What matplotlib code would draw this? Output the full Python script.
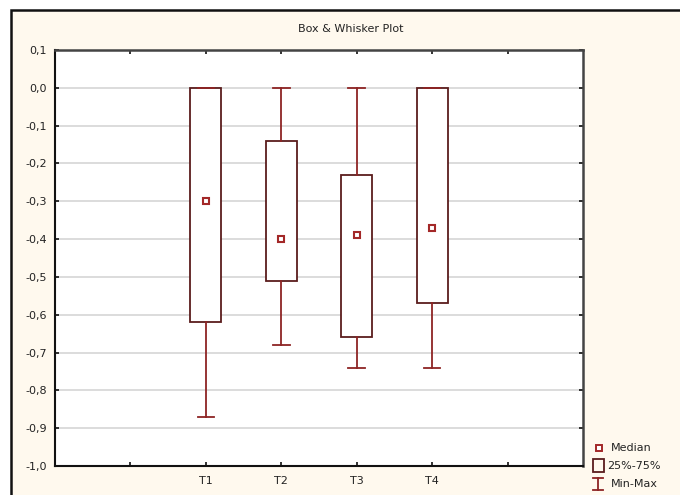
import matplotlib.pyplot as plt
from matplotlib.patches import Rectangle
from matplotlib.lines import Line2D

# data per group: min, q1, median, q3, max
groups = ["T1", "T2", "T3", "T4"]
mins = [-0.87, -0.68, -0.74, -0.74]
q1s = [-0.62, -0.51, -0.66, -0.57]
medians = [-0.30, -0.40, -0.39, -0.37]
q3s = [0.00, -0.14, -0.23, 0.00]
maxs = [0.00, 0.00, 0.00, 0.00]

yticks = [-1.0, -0.9, -0.8, -0.7, -0.6, -0.5, -0.4, -0.3, -0.2, -0.1, 0.0, 0.1]

box_col = "#5a1c1c"
whisk_col = "#8e2424"
med_col = "#a32828"
txt_col = "#232323"
cream = "#fff9ee"

fig = plt.figure(figsize=(6.8, 4.95), dpi=100)
fig.patch.set_facecolor("white")

# outer panel, kept behind the axes
panel = Rectangle((11 / 680, -0.05), 1.0, 1 - 10 / 495 + 0.05, transform=fig.transFigure,
                  facecolor=cream, edgecolor="#111111", linewidth=1.8, zorder=-5)
fig.patches.append(panel)

ax = fig.add_axes([55 / 680, 29 / 495, (583 - 55) / 680, (466 - 50) / 495])
ax.set_facecolor("white")
ax.set_zorder(1)

stats = []
for g, lo, a, m, b, hi in zip(groups, mins, q1s, medians, q3s, maxs):
    stats.append(dict(label=g, whislo=lo, q1=a, med=m, mean=m, q3=b, whishi=hi, fliers=[]))

pos = [2, 3, 4, 5]
ax.bxp(stats, positions=pos, widths=0.41, capwidths=0.22, showmeans=True,
       patch_artist=True, manage_ticks=False,
       boxprops=dict(facecolor="white", edgecolor=box_col, linewidth=1.3),
       whiskerprops=dict(color=whisk_col, linewidth=1.3),
       capprops=dict(color=whisk_col, linewidth=1.3),
       medianprops=dict(linewidth=0),
       meanprops=dict(marker="s", markersize=4.5, markerfacecolor="white",
                      markeredgecolor=med_col, markeredgewidth=1.5))

ax.set_xlim(0, 7)
ax.set_ylim(-1.0, 0.1)
ax.set_yticks(yticks)
ax.set_yticklabels([f"{v:.1f}".replace(".", ",").replace("-0,0", "0,0") for v in yticks])
ax.set_xticks([1, 2, 3, 4, 5, 6])
ax.set_xticklabels([""] + groups + [""])
ax.yaxis.grid(True, color="#dcdcdc", linewidth=1.4)
ax.set_axisbelow(True)

ax.tick_params(axis="both", direction="in", length=3, width=1.2, color="#111111",
               labelsize=8, labelcolor=txt_col, top=True, right=True)
ax.tick_params(axis="y", pad=6)
ax.tick_params(axis="x", pad=7)

for s in ["left", "bottom"]:
    ax.spines[s].set_color("#111111")
    ax.spines[s].set_linewidth(1.5)
for s in ["top", "right"]:
    ax.spines[s].set_color("#444444")
    ax.spines[s].set_linewidth(1.8)

fig.text(351 / 680, 1 - 29 / 495, "Box & Whisker Plot", ha="center", va="center",
         fontsize=8, color=txt_col)

# legend
def fx(px):
    return px / 680

def fy(py):
    return 1 - py / 495

fig.add_artist(Line2D([fx(599)], [fy(448)], marker="s", markersize=4, markerfacecolor="white",
                      markeredgecolor=med_col, markeredgewidth=1.4, linestyle="none",
                      transform=fig.transFigure))
fig.text(fx(611), fy(448), "Median", ha="left", va="center", fontsize=8, color=txt_col)

fig.patches.append(Rectangle((fx(593), fy(472)), fx(604) - fx(593), fy(459) - fy(472),
                             transform=fig.transFigure, facecolor="none",
                             edgecolor=box_col, linewidth=1.3))
fig.text(fx(607), fy(466), "25%-75%", ha="left", va="center", fontsize=8, color=txt_col)

fig.add_artist(Line2D([fx(598), fx(598)], [fy(478), fy(490)], color=whisk_col, linewidth=1.3,
                      transform=fig.transFigure))
fig.add_artist(Line2D([fx(593), fx(603)], [fy(478), fy(478)], color=whisk_col, linewidth=1.3,
                      transform=fig.transFigure))
fig.add_artist(Line2D([fx(593), fx(603)], [fy(490), fy(490)], color=whisk_col, linewidth=1.3,
                      transform=fig.transFigure))
fig.text(fx(611), fy(484), "Min-Max", ha="left", va="center", fontsize=8, color=txt_col)

fig.savefig("out.png", dpi=100, facecolor=fig.get_facecolor())
